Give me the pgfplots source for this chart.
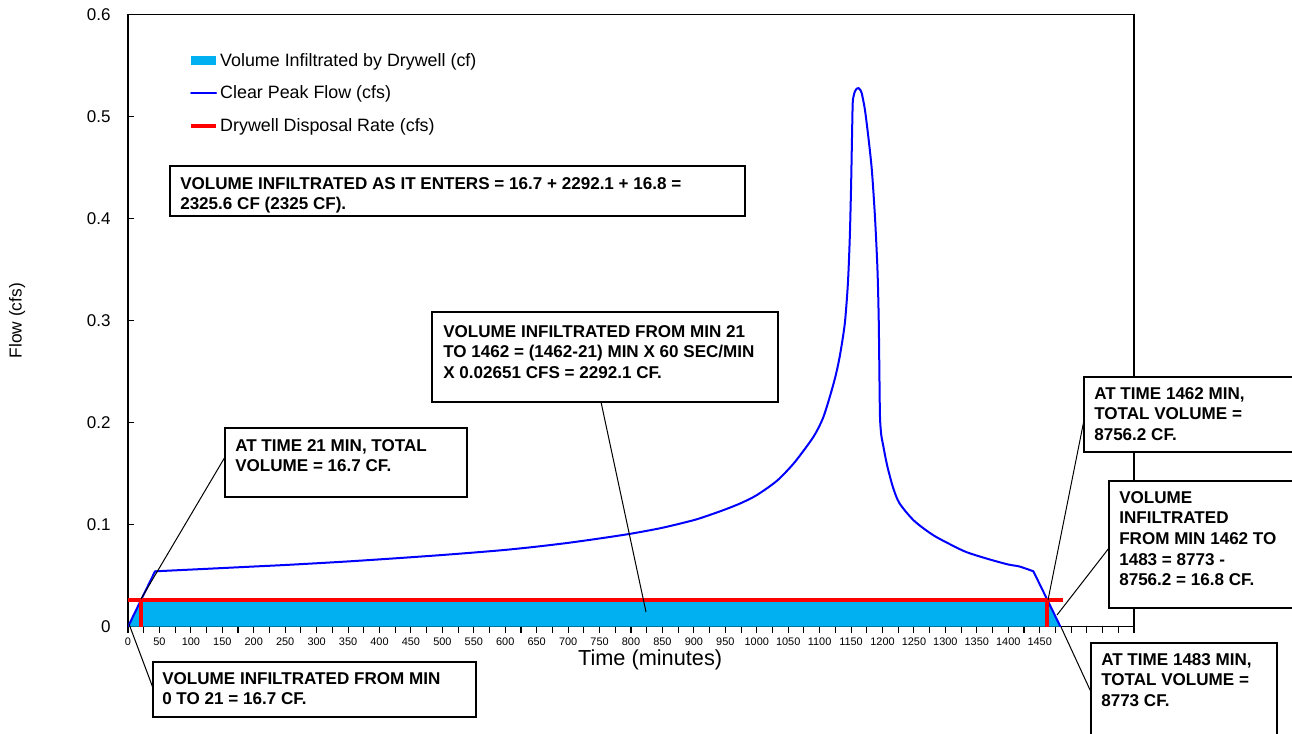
\documentclass[border=0pt]{standalone}
\usepackage{fontspec}
\setmainfont{Liberation Sans}
\usepackage{pgfplots}
\pgfplotsset{compat=1.18}
\definecolor{areablue}{RGB}{0,176,240}
\newcommand{\boxfont}{\fontsize{12.8}{15.5}\selectfont\bfseries}
\pgfplotsset{
  myarealegend/.style={legend image code/.code={\fill[##1] (0pt,-3.4pt) rectangle (18.75pt,3.4pt);}},
  mylinelegend/.style={legend image code/.code={\draw[##1] (0pt,0pt) -- (18.75pt,0pt);}},
}
\begin{document}
\begin{tikzpicture}
\path[use as bounding box] (0,0) rectangle (969pt,-550.5pt);
\clip (0,0) rectangle (969pt,-550.5pt);
\begin{axis}[
  at={(96pt,-470.025pt)}, anchor=south west,
  scale only axis, width=754.5pt, height=459pt,
  xmin=0, xmax=1600, ymin=0, ymax=0.6,
  axis line style={line width=1pt},
  xtick={0,25,...,1600},
  xticklabels={0,,50,,100,,150,,200,,250,,300,,350,,400,,450,,500,,550,,600,,650,,700,,750,,800,,850,,900,,950,,1000,,1050,,1100,,1150,,1200,,1250,,1300,,1350,,1400,,1450,{},{},{},{},{},{}},
  ytick={0,0.1,0.2,0.3,0.4,0.5,0.6},
  yticklabels={0,0.1,0.2,0.3,0.4,0.5,0.6},
  xtick align=outside, ytick align=inside,
  xtick pos=bottom, ytick pos=left,
  major tick length=4.5pt,
  tick style={black, line width=0.8pt},
  xticklabel style={font=\fontsize{8.2}{10}\selectfont},
  yticklabel style={font=\fontsize{12.75}{15}\selectfont, xshift=-9.5pt},
  xlabel={Time (minutes)},
  ylabel={Flow (cfs)},
  xlabel style={font=\fontsize{16.3}{19}\selectfont, at={(axis description cs:0.519,-0.0544)}, anchor=center},
  ylabel style={font=\fontsize{13}{15}\selectfont, at={(axis description cs:-0.1103,0.5)}, anchor=center},
  legend style={at={(axis description cs:0.0606,0.941)}, anchor=north west, draw=none, fill=none,
    inner sep=0pt, font=\fontsize{13.4}{15}\selectfont, row sep=10.3pt, nodes={inner sep=1.5pt}},
  legend cell align=left,
]
\addplot[fill=areablue, draw=none, area legend, myarealegend]
  coordinates {(0,0) (21,0.02651) (1462,0.02651) (1483,0)} \closedcycle;
\addlegendentry{Volume Infiltrated by Drywell (cf)}
\addplot[blue, line width=1.5pt, line cap=round, smooth, tension=0.45, mylinelegend]
  coordinates {
  (43,0.0543) (100,0.0560) (150,0.0575) (200,0.0590) (250,0.0605)
  (300,0.0622) (350,0.0640) (400,0.0660) (450,0.0681) (500,0.0703)
  (550,0.0727) (600,0.0753) (650,0.0785) (700,0.0822) (750,0.0865)
  (800,0.0912) (850,0.0970) (900,0.1045) (925,0.1095) (950,0.1150)
  (975,0.1212) (1000,0.1290) (1032,0.1430) (1060,0.1610) (1090,0.1860)
  (1105,0.2040) (1116,0.2250)
  (1125,0.2450) (1132,0.2650) (1140,0.2970) (1145,0.3370) (1148,0.3820)
  (1150,0.4310) (1151.5,0.4800) (1152.6,0.5130) (1154,0.5200) (1156,0.5245)
  (1159,0.5275) (1162,0.5280) (1165,0.5260) (1167,0.5230) (1172,0.5070)
  (1177.5,0.4800) (1183,0.4480) (1188,0.4020) (1192,0.3500) (1194,0.3010)
  (1195,0.2520) (1196,0.2060) (1198,0.1880) (1201,0.1780) (1205,0.1650)
  (1209,0.1540) (1217,0.1360) (1227,0.1210) (1250,0.1040) (1280,0.0900)
  (1310,0.0800) (1334,0.0730) (1370,0.0660) (1400,0.0610) (1418,0.0590)
  (1440,0.0543)
  };
\addlegendentry{Clear Peak Flow (cfs)}
\addplot[red, line width=3pt, mylinelegend]
  coordinates {(0,0.02651) (1487,0.02651)};
\addlegendentry{Drywell Disposal Rate (cfs)}
\addplot[blue, line width=1.5pt, line cap=round, forget plot] coordinates {(0,0) (43,0.0543)};
\addplot[blue, line width=1.5pt, line cap=round, forget plot] coordinates {(1440,0.0543) (1483,0)};
\addplot[red, line width=3pt, forget plot] coordinates {(0,0.02651) (1487,0.02651)};
\addplot[red, line width=3pt, forget plot] coordinates {(21,0) (21,0.02651)};
\addplot[red, line width=3pt, forget plot] coordinates {(1462,0) (1462,0.02651)};
\end{axis}
\begin{scope}[x=0.75pt, y=-0.75pt]
% leader lines
\draw[line width=0.75pt] (601,402) -- (646,612);
\draw[line width=0.75pt] (225,457) -- (141,599);
\draw[line width=0.75pt] (153,688) -- (129,624);
\draw[line width=0.75pt] (1085,415) -- (1048,600);
\draw[line width=0.75pt] (1109,548) -- (1057,615);
\draw[line width=0.75pt] (1091,692) -- (1061,627);
% boxes
\draw[line width=0.9pt, fill=white] (170,166) rectangle (745,216);
\node[anchor=north west, inner sep=0pt, align=left, font=\boxfont] at (180,177)
  {VOLUME INFILTRATED AS IT ENTERS = 16.7 + 2292.1 + 16.8 =\\2325.6 CF (2325 CF).};
\draw[line width=0.9pt, fill=white] (432,312) rectangle (778,402);
\node[anchor=north west, inner sep=0pt, align=left, font=\boxfont] at (443,325)
  {VOLUME INFILTRATED FROM MIN 21\\TO 1462 = (1462-21) MIN X 60 SEC/MIN\\X 0.02651 CFS = 2292.1 CF.};
\draw[line width=0.9pt, fill=white] (225,428) rectangle (467,497);
\node[anchor=north west, inner sep=0pt, align=left, font=\boxfont] at (235,439)
  {AT TIME 21 MIN, TOTAL\\VOLUME = 16.7 CF.};
\draw[line width=0.9pt, fill=white] (153,662) rectangle (476,717);
\node[anchor=north west, inner sep=0pt, align=left, font=\boxfont] at (162,672)
  {VOLUME INFILTRATED FROM MIN\\0 TO 21 = 16.7 CF.};
\draw[line width=0.9pt, fill=white] (1084,377) rectangle (1300,452);
\node[anchor=north west, inner sep=0pt, align=left, font=\boxfont] at (1094,387)
  {AT TIME 1462 MIN,\\TOTAL VOLUME =\\8756.2 CF.};
\draw[line width=0.9pt, fill=white] (1109,481) rectangle (1300,608);
\node[anchor=north west, inner sep=0pt, align=left, font=\boxfont] at (1119,491)
  {VOLUME\\INFILTRATED\\FROM MIN 1462 TO\\1483 = 8773 -\\8756.2 = 16.8 CF.};
\draw[line width=0.9pt, fill=white] (1091,643) rectangle (1277,760);
\node[anchor=north west, inner sep=0pt, align=left, font=\boxfont] at (1101,653)
  {AT TIME 1483 MIN,\\TOTAL VOLUME =\\8773 CF.};
\end{scope}
\end{tikzpicture}
\end{document}
